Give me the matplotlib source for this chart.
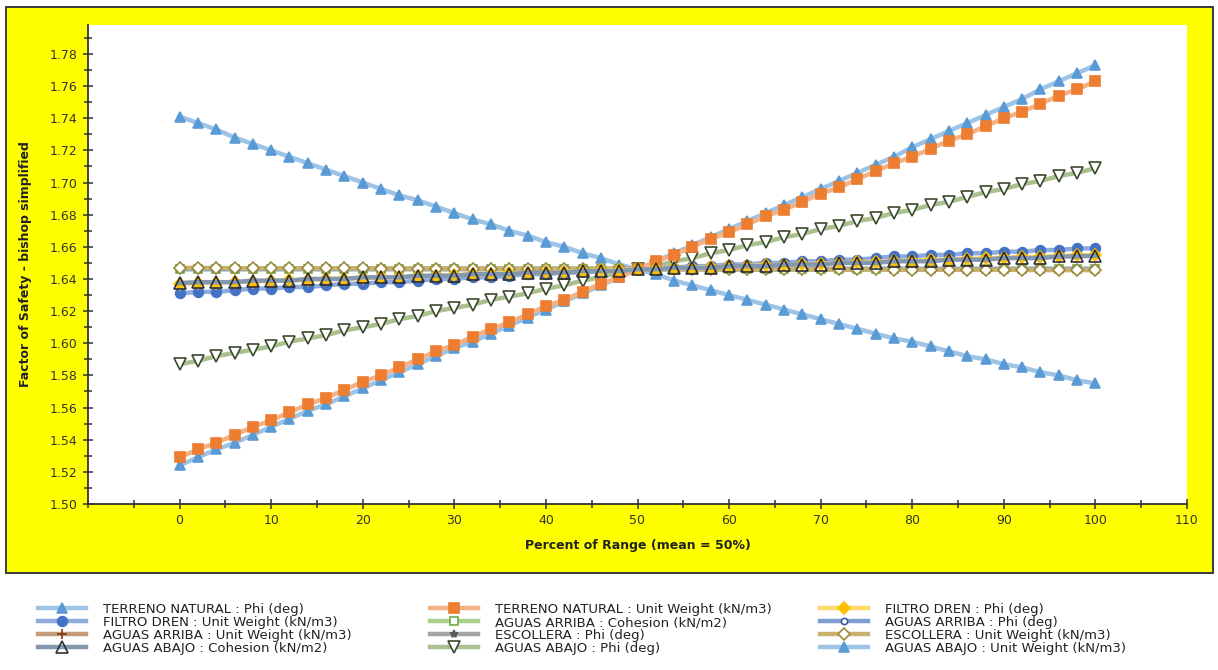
import numpy as np
import matplotlib
matplotlib.use("Agg")
import matplotlib.pyplot as plt
from matplotlib.patches import Rectangle
from matplotlib.ticker import MultipleLocator

# percent of range, one point every 2 %
pct = list(range(0, 101, 2))

tn_phi = [1.741, 1.737, 1.733, 1.728, 1.724, 1.720, 1.716, 1.712, 1.708, 1.704,
          1.700, 1.696, 1.692, 1.689, 1.685, 1.681, 1.677, 1.674, 1.670, 1.667,
          1.663, 1.660, 1.656, 1.653, 1.649, 1.646, 1.643, 1.639, 1.636, 1.633,
          1.630, 1.627, 1.624, 1.621, 1.618, 1.615, 1.612, 1.609, 1.606, 1.603,
          1.601, 1.598, 1.595, 1.592, 1.590, 1.587, 1.585, 1.582, 1.580, 1.577,
          1.575]
tn_uw = [1.529, 1.534, 1.538, 1.543, 1.548, 1.552, 1.557, 1.562, 1.566, 1.571,
         1.576, 1.580, 1.585, 1.590, 1.595, 1.599, 1.604, 1.609, 1.613, 1.618,
         1.623, 1.627, 1.632, 1.637, 1.641, 1.646, 1.651, 1.655, 1.660, 1.665,
         1.669, 1.674, 1.679, 1.683, 1.688, 1.693, 1.697, 1.702, 1.707, 1.712,
         1.716, 1.721, 1.726, 1.730, 1.735, 1.740, 1.744, 1.749, 1.754, 1.758,
         1.763]
fd_phi = [1.6370, 1.6374, 1.6377, 1.6381, 1.6384, 1.6388, 1.6392, 1.6395, 1.6399, 1.6402,
          1.6406, 1.6410, 1.6413, 1.6417, 1.6420, 1.6424, 1.6428, 1.6431, 1.6435, 1.6438,
          1.6442, 1.6446, 1.6449, 1.6453, 1.6456, 1.6460, 1.6464, 1.6467, 1.6471, 1.6474,
          1.6478, 1.6482, 1.6485, 1.6489, 1.6492, 1.6496, 1.6500, 1.6503, 1.6507, 1.6510,
          1.6514, 1.6518, 1.6521, 1.6525, 1.6528, 1.6532, 1.6536, 1.6539, 1.6543, 1.6546,
          1.6550]
fd_uw = [1.631, 1.632, 1.632, 1.633, 1.634, 1.634, 1.635, 1.635, 1.636, 1.637,
         1.637, 1.638, 1.638, 1.639, 1.640, 1.640, 1.641, 1.641, 1.642, 1.643,
         1.643, 1.644, 1.644, 1.645, 1.645, 1.646, 1.647, 1.647, 1.648, 1.648,
         1.649, 1.649, 1.650, 1.650, 1.651, 1.651, 1.652, 1.652, 1.653, 1.654,
         1.654, 1.655, 1.655, 1.656, 1.656, 1.657, 1.657, 1.658, 1.658, 1.659,
         1.659]
aar_coh = [1.646, 1.646, 1.646, 1.646, 1.646, 1.646, 1.646, 1.646, 1.646, 1.646,
           1.646, 1.646, 1.646, 1.646, 1.646, 1.646, 1.646, 1.646, 1.646, 1.646,
           1.646, 1.646, 1.646, 1.646, 1.646, 1.646, 1.646, 1.646, 1.646, 1.646,
           1.646, 1.646, 1.646, 1.646, 1.646, 1.646, 1.646, 1.646, 1.646, 1.646,
           1.646, 1.646, 1.646, 1.646, 1.646, 1.646, 1.646, 1.646, 1.646, 1.646,
           1.646]
aar_phi = [1.646, 1.646, 1.646, 1.646, 1.646, 1.646, 1.646, 1.646, 1.646, 1.646,
           1.646, 1.646, 1.646, 1.646, 1.646, 1.646, 1.646, 1.646, 1.646, 1.646,
           1.646, 1.646, 1.646, 1.646, 1.646, 1.646, 1.646, 1.646, 1.646, 1.646,
           1.646, 1.646, 1.646, 1.646, 1.646, 1.646, 1.646, 1.646, 1.646, 1.646,
           1.646, 1.646, 1.646, 1.646, 1.646, 1.646, 1.646, 1.646, 1.646, 1.646,
           1.646]
aar_uw = [1.6468, 1.6468, 1.6468, 1.6467, 1.6467, 1.6467, 1.6467, 1.6466, 1.6466, 1.6466,
          1.6466, 1.6465, 1.6465, 1.6465, 1.6465, 1.6464, 1.6464, 1.6464, 1.6464, 1.6463,
          1.6463, 1.6463, 1.6463, 1.6462, 1.6462, 1.6462, 1.6462, 1.6461, 1.6461, 1.6461,
          1.6461, 1.6460, 1.6460, 1.6460, 1.6460, 1.6459, 1.6459, 1.6459, 1.6459, 1.6458,
          1.6458, 1.6458, 1.6458, 1.6457, 1.6457, 1.6457, 1.6457, 1.6456, 1.6456, 1.6456,
          1.6456]
esc_phi = [1.646, 1.646, 1.646, 1.646, 1.646, 1.646, 1.646, 1.646, 1.646, 1.646,
           1.646, 1.646, 1.646, 1.646, 1.646, 1.646, 1.646, 1.646, 1.646, 1.646,
           1.646, 1.646, 1.646, 1.646, 1.646, 1.646, 1.646, 1.646, 1.646, 1.646,
           1.646, 1.646, 1.646, 1.646, 1.646, 1.646, 1.646, 1.646, 1.646, 1.646,
           1.646, 1.646, 1.646, 1.646, 1.646, 1.646, 1.646, 1.646, 1.646, 1.646,
           1.646]
esc_uw = [1.6468, 1.6468, 1.6468, 1.6467, 1.6467, 1.6467, 1.6467, 1.6466, 1.6466, 1.6466,
          1.6466, 1.6465, 1.6465, 1.6465, 1.6465, 1.6464, 1.6464, 1.6464, 1.6464, 1.6463,
          1.6463, 1.6463, 1.6463, 1.6462, 1.6462, 1.6462, 1.6462, 1.6461, 1.6461, 1.6461,
          1.6461, 1.6460, 1.6460, 1.6460, 1.6460, 1.6459, 1.6459, 1.6459, 1.6459, 1.6458,
          1.6458, 1.6458, 1.6458, 1.6457, 1.6457, 1.6457, 1.6457, 1.6456, 1.6456, 1.6456,
          1.6456]
aab_coh = [1.6375, 1.638, 1.638, 1.638, 1.639, 1.639, 1.639, 1.640, 1.640, 1.640,
           1.641, 1.641, 1.641, 1.642, 1.642, 1.642, 1.643, 1.643, 1.643, 1.644,
           1.644, 1.644, 1.645, 1.645, 1.645, 1.646, 1.646, 1.647, 1.647, 1.647,
           1.648, 1.648, 1.648, 1.649, 1.649, 1.649, 1.650, 1.650, 1.650, 1.651,
           1.651, 1.651, 1.652, 1.652, 1.652, 1.653, 1.653, 1.653, 1.654, 1.654,
           1.6545]
aab_phi = [1.587, 1.589, 1.592, 1.594, 1.596, 1.598, 1.601, 1.603, 1.605, 1.608,
           1.610, 1.612, 1.615, 1.617, 1.620, 1.622, 1.624, 1.627, 1.629, 1.631,
           1.634, 1.636, 1.639, 1.641, 1.644, 1.646, 1.648, 1.651, 1.653, 1.656,
           1.658, 1.661, 1.663, 1.666, 1.668, 1.671, 1.673, 1.676, 1.678, 1.681,
           1.683, 1.686, 1.688, 1.691, 1.694, 1.696, 1.699, 1.701, 1.704, 1.706,
           1.709]
aab_uw = [1.524, 1.529, 1.534, 1.538, 1.543, 1.548, 1.553, 1.558, 1.562, 1.567,
          1.572, 1.577, 1.582, 1.587, 1.592, 1.597, 1.601, 1.606, 1.611, 1.616,
          1.621, 1.626, 1.631, 1.636, 1.641, 1.646, 1.651, 1.656, 1.661, 1.666,
          1.671, 1.676, 1.681, 1.686, 1.691, 1.696, 1.701, 1.706, 1.711, 1.716,
          1.722, 1.727, 1.732, 1.737, 1.742, 1.747, 1.752, 1.758, 1.763, 1.768,
          1.773]

W, H = 1218, 670
fig = plt.figure(figsize=(W / 100, H / 100), dpi=100)

# yellow chart panel with dark border, behind the axes
fig.patches.append(Rectangle((6 / W, 1 - 573 / H), 1207 / W, 566 / H,
                             transform=fig.transFigure, facecolor='#ffff00',
                             edgecolor='#3a3a3a', linewidth=1.4, zorder=-5))

ax = fig.add_axes([88 / W, 1 - 504 / H, 1099 / W, 479 / H])
ax.set_facecolor('white')

lw = 3.2
series = [
    # y, label, line colour, marker, face, edge, size, zorder
    (tn_phi, 'TERRENO NATURAL : Phi (deg)', '#9dc3e6', '^', '#5b9bd5', '#5b9bd5', 7.5, 3),
    (fd_uw, 'FILTRO DREN : Unit Weight (kN/m3)', '#8faadc', 'o', '#4472c4', '#4472c4', 7, 3),
    (aar_uw, 'AGUAS ARRIBA : Unit Weight (kN/m3)', '#c49a78', '+', '#843c0c', '#843c0c', 7, 3),
    (aab_coh, 'AGUAS ABAJO : Cohesion (kN/m2)', '#8497b0', '^', 'none', '#2f2f2f', 8, 6),
    (tn_uw, 'TERRENO NATURAL : Unit Weight (kN/m3)', '#f4b183', 's', '#ed7d31', '#ed7d31', 6.5, 5),
    (aar_coh, 'AGUAS ARRIBA : Cohesion (kN/m2)', '#a9d18e', 's', 'white', '#70ad47', 6, 3),
    (esc_phi, 'ESCOLLERA : Phi (deg)', '#a5a5a5', '*', '#595959', '#595959', 6, 3),
    (aab_phi, 'AGUAS ABAJO : Phi (deg)', '#a9c08f', 'v', 'white', '#3b4a2c', 9, 3),
    (fd_phi, 'FILTRO DREN : Phi (deg)', '#ffd966', 'D', '#ffc000', '#ffc000', 6, 5),
    (aar_phi, 'AGUAS ARRIBA : Phi (deg)', '#7f9fcf', 'o', 'white', '#3c5a99', 4.5, 3),
    (esc_uw, 'ESCOLLERA : Unit Weight (kN/m3)', '#c9b26f', 'D', 'white', '#9c8a3c', 6.5, 4),
    (aab_uw, 'AGUAS ABAJO : Unit Weight (kN/m3)', '#9dc3e6', '^', '#5b9bd5', '#5b9bd5', 7.5, 4),
]

lines = []
for y, lab, lc, mk, mf, me, ms, z in series:
    ln, = ax.plot(pct, y, color=lc, lw=lw, marker=mk, mfc=mf, mec=me, ms=ms,
                  mew=1.2, label=lab, zorder=z)
    lines.append(ln)

ax.set_xlim(-10, 110)
ax.set_ylim(1.50, 1.798)
ax.set_xticks(range(0, 111, 10))
ax.xaxis.set_minor_locator(MultipleLocator(5))
ax.yaxis.set_major_locator(MultipleLocator(0.02))
ax.yaxis.set_minor_locator(MultipleLocator(0.01))
ax.yaxis.set_major_formatter(matplotlib.ticker.FormatStrFormatter('%.2f'))

for s in ['top', 'right']:
    ax.spines[s].set_visible(False)
for s in ['left', 'bottom']:
    ax.spines[s].set_color('#333333')
    ax.spines[s].set_linewidth(1.3)

ax.tick_params(which='major', direction='inout', length=7, width=1.1,
               color='#333333', labelsize=9, labelcolor='#333333', pad=4)
ax.tick_params(which='minor', direction='inout', length=6, width=1.1, color='#333333')

ax.set_xlabel('Percent of Range (mean = 50%)', fontsize=9, fontweight='bold', color='#222222')
ax.set_ylabel('Factor of Safety - bishop simplified', fontsize=9, fontweight='bold', color='#222222')
ax.xaxis.set_label_coords(0.5, -0.073)
ax.yaxis.set_label_coords(-0.051, 0.5)

# legend: three columns below the panel
cols = [(lines[0:4], 38), (lines[4:8], 430), (lines[8:12], 820)]
for hs, xpix in cols:
    fig.legend(handles=hs, loc='upper left', bbox_to_anchor=(xpix / W, 1 - 603 / H),
               frameon=False, fontsize=9.5, handlelength=3.6, handletextpad=1.3,
               labelspacing=0.0, borderpad=0, borderaxespad=0, numpoints=1,
               labelcolor='#222222')

fig.savefig('out.png', dpi=100)
